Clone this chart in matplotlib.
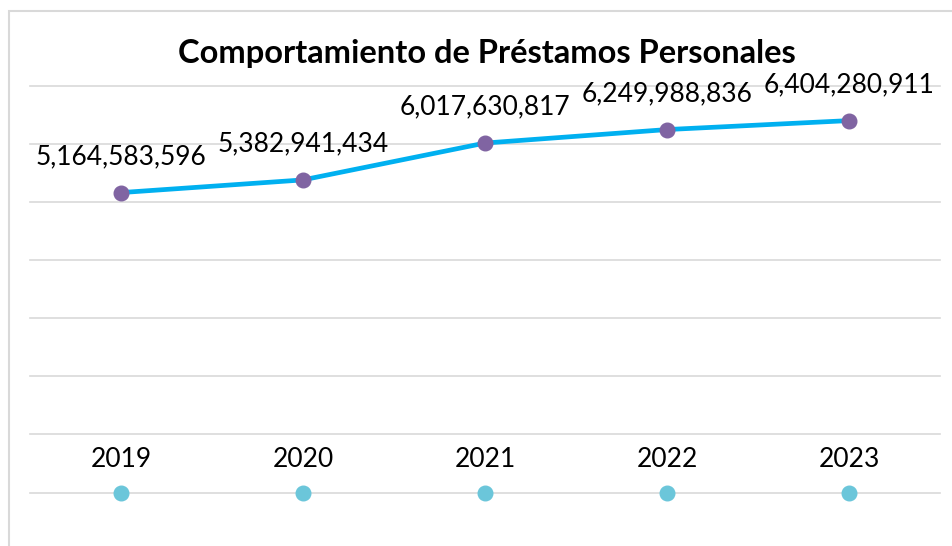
import matplotlib
matplotlib.use('Agg')
import matplotlib.pyplot as plt
from matplotlib.patches import Rectangle

# Data
years = ['2019', '2020', '2021', '2022', '2023']
prestamos = [5164583596, 5382941434, 6017630817, 6249988836, 6404280911]
base = [0, 0, 0, 0, 0]

plt.rcParams['font.family'] = ['Lato', 'DejaVu Sans']

W, H = 953, 546
fig = plt.figure(figsize=(W / 100, H / 100), dpi=100)

# chart border (only left and top edges are visible in the crop)
fig.patches.append(Rectangle((9 / W, -0.1), 1.2, 1.1 - 11 / H, transform=fig.transFigure,
                             fill=False, edgecolor='#D9D9D9', linewidth=1.5))

ax = fig.add_axes([30 / W, 0, 910 / W, 1 - 86 / H])
ax.set_xlim(-0.5, 4.5)
ax.set_ylim(-0.921e9, 7e9)
for s in ax.spines.values():
    s.set_visible(False)
ax.set_xticks([])
ax.set_yticks([])

# gridlines
for g in range(0, 8):
    ax.axhline(g * 1e9, color='#D9D9D9', linewidth=1.2, zorder=0, clip_on=False)

x = list(range(len(years)))
ax.plot(x, prestamos, color='#00B0F0', linewidth=3.4, marker='o', markersize=10.5,
        markerfacecolor='#8064A2', markeredgecolor='#8064A2', zorder=3, clip_on=False)
ax.plot(x, base, linestyle='none', marker='o', markersize=10.5,
        markerfacecolor='#6BC6DA', markeredgecolor='#6BC6DA', zorder=3, clip_on=False)

for xi, v in zip(x, prestamos):
    ax.annotate(f'{v:,}', (xi, v), xytext=(0, 26), textcoords='offset points',
                ha='center', va='center', fontsize=19, color='black')

for xi, yr in zip(x, years):
    ax.text(xi, 0.57e9, yr, ha='center', va='center', fontsize=19, color='black')

fig.text(487 / W, 1 - 54 / H, 'Comportamiento de Préstamos Personales', ha='center', va='center',
         fontsize=23.5, fontweight='bold', color='black')

fig.savefig('out.png', dpi=100)
